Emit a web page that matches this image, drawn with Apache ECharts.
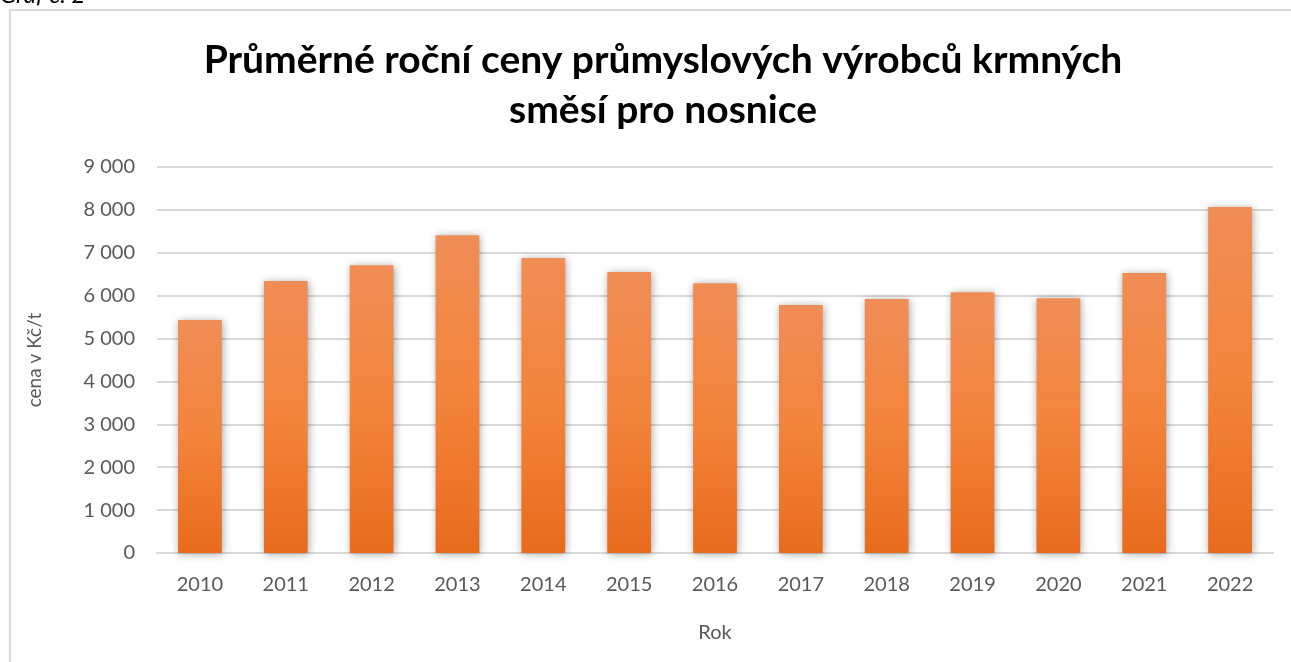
<!DOCTYPE html>
<html>
<head>
<meta charset="utf-8">
<script src="https://cdn.jsdelivr.net/npm/echarts@6/dist/echarts.min.js"></script>
<style>
  html, body { margin: 0; padding: 0; background: #fff; }
  #chart { width: 1291px; height: 662px; }
</style>
</head>
<body>
<div id="chart"></div>
<script>
// roky a ceny (Kč/t)
const years = ['2010', '2011', '2012', '2013', '2014', '2015', '2016', '2017', '2018', '2019', '2020', '2021', '2022'];
const prices = [5430, 6340, 6710, 7410, 6880, 6550, 6290, 5780, 5920, 6080, 5940, 6530, 8065];
const yTicks = [0, 9000, 1000];

const font = 'Lato, "Open Sans", sans-serif';
const myChart = echarts.init(document.getElementById('chart'));

// 9000 -> "9 000"
const fmt = v => String(v).replace(/\B(?=(\d{3})+(?!\d))/g, ' ');

const option = {
  animation: false,
  backgroundColor: '#fff',
  title: {
    text: 'Průměrné roční ceny průmyslových výrobců krmných\nsměsí pro nosnice',
    left: 658,
    textAlign: 'center',
    top: 30,
    textStyle: {
      fontFamily: font,
      fontWeight: 'bold',
      fontSize: 39,
      lineHeight: 50,
      color: '#000'
    }
  },
  graphic: [
    {
      type: 'rect',
      shape: { x: 10, y: 10, width: 1300, height: 700 },
      style: { fill: 'none', stroke: '#d9d9d9', lineWidth: 2 },
      silent: true
    },
    {
      type: 'text',
      left: 0,
      top: -17,
      style: { text: 'Graf č. 2', font: 'italic 24px ' + font, fill: '#000' },
      silent: true
    }
  ],
  grid: { left: 157, right: 18, top: 167, bottom: 109 },
  xAxis: {
    type: 'category',
    data: years,
    name: 'Rok',
    nameLocation: 'middle',
    nameGap: 70,
    nameTextStyle: { fontFamily: font, fontSize: 20, color: '#595959' },
    axisTick: { show: false },
    axisLine: { lineStyle: { color: '#d9d9d9', width: 2 } },
    axisLabel: { fontFamily: font, fontSize: 20, color: '#595959', margin: 22 }
  },
  yAxis: {
    type: 'value',
    min: yTicks[0],
    max: yTicks[1],
    interval: yTicks[2],
    name: 'cena v Kč/t',
    nameLocation: 'middle',
    nameGap: 113,
    nameTextStyle: { fontFamily: font, fontSize: 19, color: '#595959' },
    axisLine: { show: false },
    axisTick: { show: false },
    splitLine: { lineStyle: { color: '#d9d9d9', width: 2 } },
    axisLabel: { fontFamily: font, fontSize: 20, color: '#595959', margin: 22, formatter: fmt }
  },
  series: [
    {
      type: 'bar',
      data: prices,
      barWidth: '51%',
      itemStyle: {
        color: new echarts.graphic.LinearGradient(0, 0, 0, 1, [
          { offset: 0, color: '#f08d56' },
          { offset: 0.5, color: '#f3843c' },
          { offset: 1, color: '#e86b1d' }
        ]),
        shadowBlur: 8,
        shadowColor: 'rgba(0,0,0,0.35)',
        shadowOffsetX: 1,
        shadowOffsetY: 1
      }
    }
  ]
};
myChart.setOption(option);
</script>
</body>
</html>
